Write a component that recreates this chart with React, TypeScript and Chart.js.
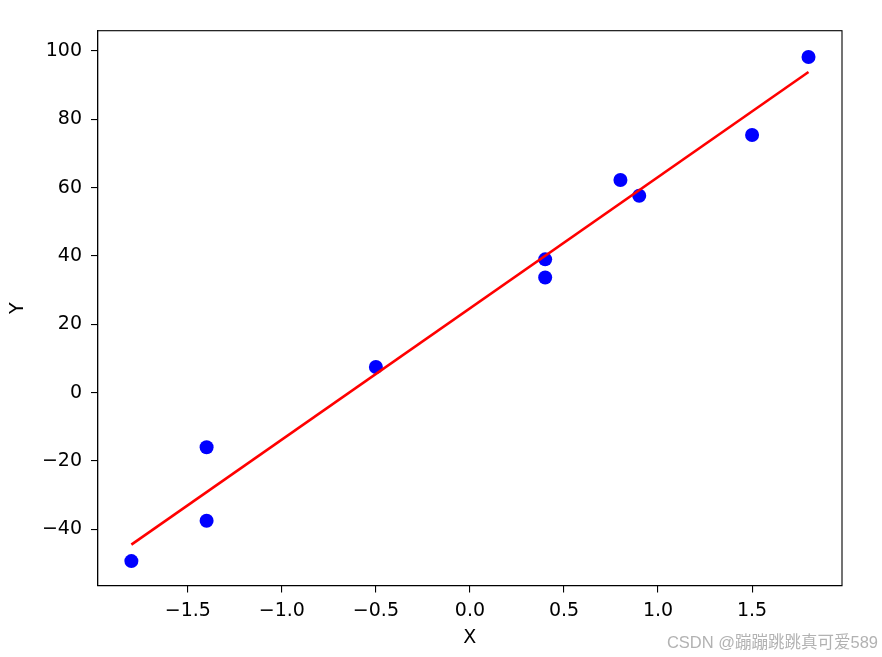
import React, { useEffect, useRef } from "react";
import { Chart, registerables } from "chart.js";

Chart.register(...registerables);

const pointX = [-1.8, -1.4, -1.4, -0.5, 0.4, 0.4, 0.8, 0.9, 1.5, 1.8];
const pointY = [-49.3, -16.0, -37.5, 7.5, 39.0, 33.7, 62.2, 57.6, 75.4, 98.2];
const lineX = [-1.8, 1.8];
const lineY = [-44.5, 93.8];
const xTicks = [-1.5, -1.0, -0.5, 0.0, 0.5, 1.0, 1.5];
const yTicks = [-40, -20, 0, 20, 40, 60, 80, 100];
const xLabel = "X";
const yLabel = "Y";
const watermark = "CSDN @蹦蹦跳跳真可爱589";

const W = 882;
const H = 657;
const PLOT_LEFT = 97.7;
const PLOT_RIGHT = 842;
const PLOT_TOP = 30.7;
const PLOT_BOTTOM = 585.7;
const FONT = '"DejaVu Sans", sans-serif';

const fmt = (v: number, d: number) => v.toFixed(d).replace("-", "\u2212");

export default function App() {
  const ref = useRef<HTMLCanvasElement | null>(null);

  useEffect(() => {
    if (!ref.current) return;
    const framePlugin = {
      id: "frame",
      afterDraw(chart: any) {
        const { ctx, chartArea } = chart;
        ctx.save();
        ctx.strokeStyle = "#000";
        ctx.lineWidth = 1.1;
        ctx.strokeRect(chartArea.left, chartArea.top, chartArea.right - chartArea.left, chartArea.bottom - chartArea.top);
        ctx.font = '16.5px "Liberation Sans", "Noto Sans CJK SC", sans-serif';
        ctx.fillStyle = "rgba(170,170,170,0.9)";
        ctx.textAlign = "right";
        ctx.textBaseline = "alphabetic";
        ctx.fillText(watermark, 878, 647.5);
        ctx.restore();
      },
    };

    const chart = new Chart(ref.current, {
      data: {
        datasets: [
          {
            type: "line",
            data: lineX.map((x, i) => ({ x, y: lineY[i] })),
            borderColor: "#ff0000",
            borderWidth: 2.6,
            pointRadius: 0,
            fill: false,
            order: 0,
          } as any,
          {
            type: "scatter",
            data: pointX.map((x, i) => ({ x, y: pointY[i] })),
            backgroundColor: "#0000ff",
            borderWidth: 0,
            pointRadius: 7,
            order: 1,
          } as any,
        ],
      },
      options: {
        responsive: false,
        animation: false,
        devicePixelRatio: 1,
        layout: { padding: { left: 0, top: PLOT_TOP, right: W - PLOT_RIGHT, bottom: 0 } },
        plugins: { legend: { display: false }, tooltip: { enabled: false } },
        scales: {
          x: {
            type: "linear",
            position: "bottom",
            min: -1.979,
            max: 1.978,
            afterBuildTicks: (s: any) => {
              s.ticks = xTicks.map((v) => ({ value: v }));
            },
            afterFit: (s: any) => {
              s.height = H - PLOT_BOTTOM;
            },
            grid: { drawOnChartArea: false, drawTicks: true, tickLength: 6.7, color: "#000", lineWidth: 1.1 },
            border: { display: true, color: "#000", width: 1.1 },
            ticks: {
              color: "#000",
              font: { family: FONT, size: 19 },
              padding: 7,
              autoSkip: false,
              maxRotation: 0,
              callback: (v: any) => fmt(Number(v), 1),
            },
            title: {
              display: true,
              text: xLabel,
              color: "#000",
              font: { family: FONT, size: 19 },
              padding: { top: 0, bottom: 8 },
            },
          },
          y: {
            type: "linear",
            position: "left",
            min: -56.5,
            max: 105.9,
            afterBuildTicks: (s: any) => {
              s.ticks = yTicks.map((v) => ({ value: v }));
            },
            afterFit: (s: any) => {
              s.width = PLOT_LEFT;
            },
            grid: { drawOnChartArea: false, drawTicks: true, tickLength: 6.7, color: "#000", lineWidth: 1.1 },
            border: { display: true, color: "#000", width: 1.1 },
            ticks: {
              color: "#000",
              font: { family: FONT, size: 19 },
              padding: 9,
              autoSkip: false,
              callback: (v: any) => fmt(Number(v), 0),
            },
            title: {
              display: true,
              text: yLabel,
              color: "#000",
              font: { family: FONT, size: 19 },
              padding: { top: 6.6, bottom: 0 },
            },
          },
        },
      },
      plugins: [framePlugin],
    } as any);
    return () => chart.destroy();
  }, []);

  return (
    <div style={{ position: "fixed", left: 0, top: 0, width: W, height: H, background: "#fff" }}>
      <canvas ref={ref} width={W} height={H} style={{ width: W, height: H, display: "block" }} />
    </div>
  );
}
